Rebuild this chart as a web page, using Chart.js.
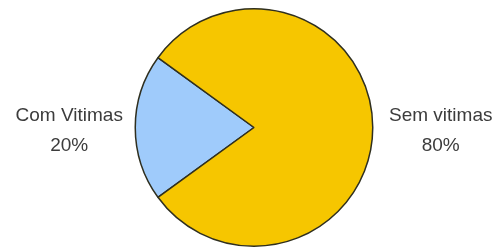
<!DOCTYPE html>
<html>
<head>
<meta charset="utf-8">
<script src="https://cdn.jsdelivr.net/npm/chart.js@4/dist/chart.umd.min.js"></script>
<style>
  html, body { margin: 0; padding: 0; background: #fff; }
  #wrap { width: 496px; height: 247px; position: relative; }
</style>
</head>
<body>
<div id="wrap"><canvas id="c"></canvas></div>
<script>
const labels = ['Com Vitimas', 'Sem vitimas'];
const values = [20, 80];
const pctLabels = ['20%', '80%'];
const colors = ['#9fcbfb', '#f6c600'];

// labels drawn to the side of the pie, like the original
const sideLabels = {
  id: 'sideLabels',
  afterDraw(chart) {
    const ctx = chart.ctx;
    const arc = chart.getDatasetMeta(0).data[0];
    const cx = arc.x, cy = arc.y, r = arc.outerRadius;
    ctx.save();
    ctx.fillStyle = '#3c3c3c';
    ctx.font = '19px "Liberation Sans", Arial, sans-serif';
    ctx.textAlign = 'center';
    ctx.textBaseline = 'middle';
    const lx = cx - r - 66, rx = cx + r + 68;
    ctx.fillText(labels[0], lx, cy - 12);
    ctx.fillText(pctLabels[0], lx, cy + 18);
    ctx.fillText(labels[1], rx, cy - 12);
    ctx.fillText(pctLabels[1], rx, cy + 18);
    ctx.restore();
  }
};

new Chart(document.getElementById('c'), {
  type: 'pie',
  data: {
    labels: labels,
    datasets: [{
      data: values,
      backgroundColor: colors,
      borderColor: '#2f2f1f',
      borderWidth: 1.5
    }]
  },
  options: {
    responsive: true,
    maintainAspectRatio: false,
    animation: false,
    rotation: 234,
    layout: { padding: { top: 8, bottom: 0, left: 12, right: 0 } },
    plugins: {
      legend: { display: false },
      tooltip: { enabled: false }
    }
  },
  plugins: [sideLabels]
});
</script>
</body>
</html>
